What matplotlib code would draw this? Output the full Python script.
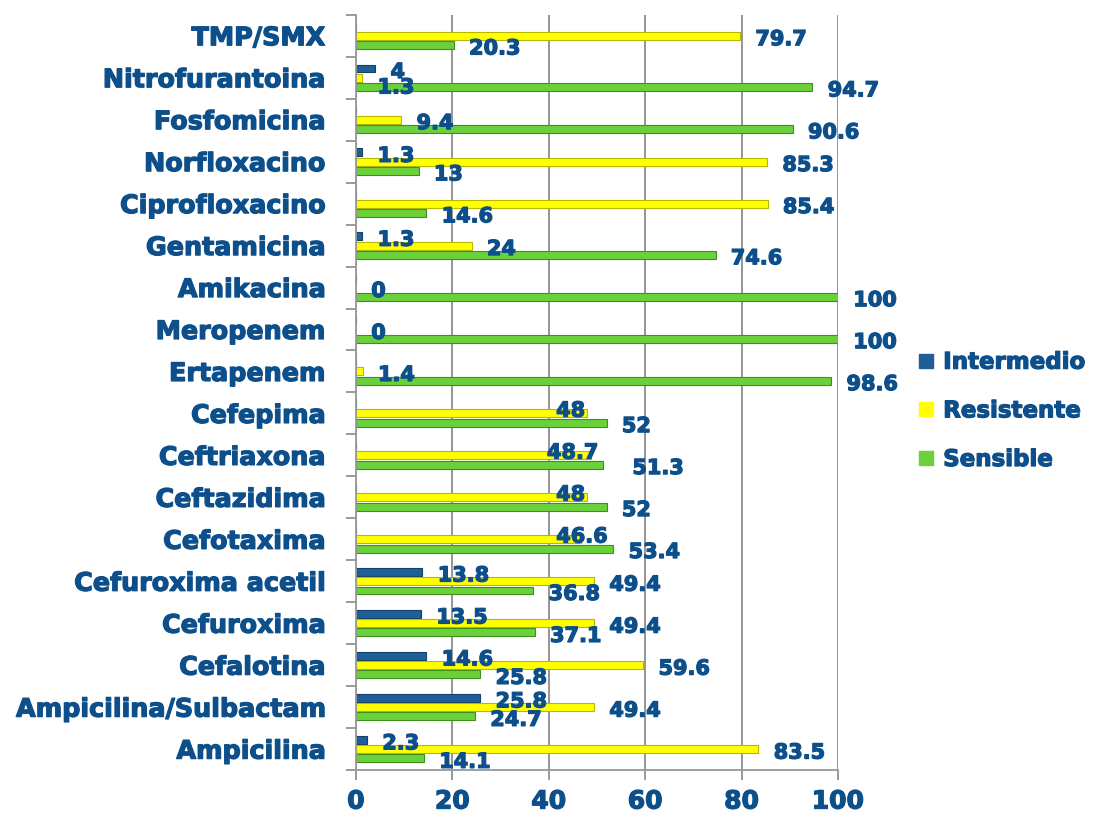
import numpy as np
import matplotlib
matplotlib.use("Agg")
import matplotlib.pyplot as plt
from matplotlib.lines import Line2D
import matplotlib.patheffects as pe

# datos (de arriba hacia abajo como en la figura)
antibioticos = ["TMP/SMX", "Nitrofurantoina", "Fosfomicina", "Norfloxacino",
                "Ciprofloxacino", "Gentamicina", "Amikacina", "Meropenem",
                "Ertapenem", "Cefepima", "Ceftriaxona", "Ceftazidima",
                "Cefotaxima", "Cefuroxima acetil", "Cefuroxima", "Cefalotina",
                "Ampicilina/Sulbactam", "Ampicilina"]
intermedio = [np.nan, 4, np.nan, 1.3, np.nan, 1.3, np.nan, np.nan, np.nan,
              np.nan, np.nan, np.nan, np.nan, 13.8, 13.5, 14.6, 25.8, 2.3]
resistente = [79.7, 1.3, 9.4, 85.3, 85.4, 24, 0, 0, 1.4, 48, 48.7, 48, 46.6,
              49.4, 49.4, 59.6, 49.4, 83.5]
sensible = [20.3, 94.7, 90.6, 13, 14.6, 74.6, 100, 100, 98.6, 52, 51.3, 52,
            53.4, 36.8, 37.1, 25.8, 24.7, 14.1]

azul_txt = "#0d4f8b"
col_int = "#1f5f99"
col_res = "#ffff00"
col_sen = "#6ad13a"
grueso = [pe.withStroke(linewidth=0.9, foreground=azul_txt)]

# ajustes manuales de algunas etiquetas (serie, fila) -> (ha, dx, dy en puntos)
ajustes = {
    ("Resistente", 1): ("left", 11, -7),
    ("Resistente", 9): ("center", -12, 2),
    ("Resistente", 10): ("center", -13, 2),
    ("Resistente", 11): ("center", -12, 2),
    ("Resistente", 12): ("center", 1, 2),
    ("Sensible", 10): ("left", 21, -2.5),
}

fig = plt.figure(figsize=(11.01, 8.21), dpi=100)
ax = fig.add_axes([0.3233, 0.062, 0.4378, 0.92])

n = len(antibioticos)
y = np.arange(n)[::-1]
h = 0.19
off = 0.22

series = [(intermedio, col_int, "#123f6b", -off, "Intermedio"),
          (resistente, col_res, "#b8b800", 0, "Resistente"),
          (sensible, col_sen, "#3f8f1f", off, "Sensible")]

for vals, c, ec, d, nombre in series:
    v = np.array(vals, dtype=float)
    bars = ax.barh(y - d, np.nan_to_num(v), height=h, color=c, edgecolor=ec,
                   linewidth=0.8, label=nombre)
    etiquetas = ["" if np.isnan(x) else f"{x:g}" for x in v]
    anns = ax.bar_label(bars, labels=etiquetas, padding=11, fontsize=15,
                        fontweight="bold", color=azul_txt)
    for i, a in enumerate(anns):
        ha, dx, dy = ajustes.get((nombre, i), ("left", 11, -2.5))
        a.set_ha(ha)
        a.xyann = (dx, dy)
        a.set_path_effects(grueso)

ax.set_xlim(0, 100)
ax.set_ylim(-0.5, n - 0.5)
ax.set_xticks([0, 20, 40, 60, 80, 100])
ax.set_yticks(y)
ax.set_yticklabels(antibioticos)
ax.set_yticks(np.arange(-0.5, n, 1), minor=True)
ax.tick_params(axis="y", which="major", length=0, pad=22, labelsize=18.3,
               labelcolor=azul_txt)
ax.tick_params(axis="y", which="minor", length=7, color="#888888", width=1.2)
ax.tick_params(axis="x", length=7, color="#888888", width=1.2, pad=7,
               labelsize=18, labelcolor=azul_txt)
for lbl in ax.get_yticklabels() + ax.get_xticklabels():
    lbl.set_fontweight("bold")
    lbl.set_path_effects(grueso)

ax.grid(axis="x", color="#8c8c8c", linewidth=1.3)
ax.set_axisbelow(True)
for s in ["top", "right"]:
    ax.spines[s].set_visible(False)
for s in ["left", "bottom"]:
    ax.spines[s].set_color("#999999")
    ax.spines[s].set_linewidth(1.3)

handles = [Line2D([], [], marker="s", linestyle="none", markersize=10.5,
                  markerfacecolor=c, markeredgecolor=c) for _, c, _, _, _ in series]
leg = fig.legend(handles, [s[4] for s in series], loc="upper left",
                 bbox_to_anchor=(0.814, 0.598), frameon=False, handlelength=0.8,
                 handletextpad=0.35, labelspacing=1.12,
                 prop={"size": 16.5, "weight": "bold"}, labelcolor=azul_txt)
for t in leg.get_texts():
    t.set_path_effects(grueso)

fig.savefig("out.png", dpi=100)
